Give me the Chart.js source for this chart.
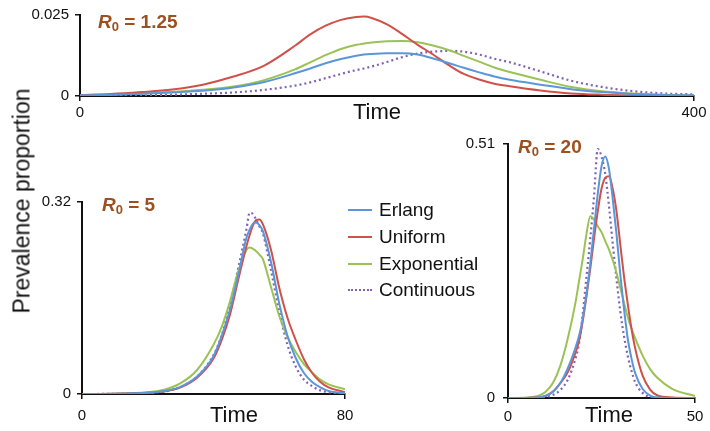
<!DOCTYPE html>
<html>
<head>
<meta charset="utf-8">
<script src="https://cdn.jsdelivr.net/npm/chart.js@4"></script>
<style>
  body { margin: 0; background: #fff; }
  #wrap { position: relative; width: 710px; height: 431px; overflow: hidden; font-family: 'Liberation Sans', Arial, sans-serif; }
  #wrap canvas { position: absolute; left: 0; top: 0; }
  .txt { position: absolute; white-space: nowrap; transform: translate(-50%, -50%); line-height: 1; color: #111; }
  .r0 { position: absolute; white-space: nowrap; line-height: 1; font-size: 19px; font-weight: bold; color: #9c4f1f; transform: translateY(-50%); }
  .r0 sub { font-size: 13px; font-style: normal; vertical-align: -3px; }
  .leg { position: absolute; left: 348px; font-size: 19px; line-height: 1; color: #111; }
  .leg .row { position: absolute; left: 0; white-space: nowrap; transform: translateY(-50%); }
  .leg .sw { position: absolute; left: 0; top: 50%; width: 24px; height: 0; }
  .leg .lbl { position: absolute; left: 31px; top: -9px; }
</style>
</head>
<body>
<div id="wrap">
  <canvas id="cTop" width="710" height="431"></canvas>
  <canvas id="cLeft" width="710" height="431"></canvas>
  <canvas id="cRight" width="710" height="431"></canvas>
</div>
<script>
var seriesNames = ['Erlang', 'Uniform', 'Exponential', 'Continuous'];
var seriesColors = ['#5a96d8', '#d0504a', '#9bc255', '#7f62b6'];

// R0 = 1.25
var timeTop = [0, 20, 40, 60, 80, 100, 120, 140, 150, 160, 170, 180, 185, 190, 200, 210, 220, 230, 240, 250, 260, 270, 280, 300, 320, 340, 360, 380, 400];
var erlangTop = [0.0002, 0.0004, 0.0007, 0.0011, 0.0016, 0.0026, 0.0043, 0.007, 0.0085, 0.0101, 0.0114, 0.0124, 0.0128, 0.013, 0.0132, 0.0132, 0.0128, 0.0116, 0.0102, 0.0087, 0.0073, 0.006, 0.005, 0.0035, 0.0021, 0.0012, 0.0006, 0.0003, 0.0002];
var uniformTop = [0.0003, 0.0006, 0.0012, 0.002, 0.0035, 0.006, 0.0094, 0.0155, 0.019, 0.0217, 0.0235, 0.0244, 0.0245, 0.0241, 0.0221, 0.0191, 0.0158, 0.0128, 0.0096, 0.0068, 0.0051, 0.0038, 0.003, 0.0017, 0.0008, 0.0004, 0.0002, 0.0001, 0.0001];
var exponentialTop = [0.0002, 0.0004, 0.0008, 0.0013, 0.0019, 0.0029, 0.0049, 0.0082, 0.0104, 0.0126, 0.0145, 0.0158, 0.0162, 0.0165, 0.0169, 0.017, 0.0166, 0.0156, 0.0142, 0.0124, 0.0106, 0.0088, 0.0074, 0.005, 0.0028, 0.0015, 0.0008, 0.0004, 0.0002];
var continuousTop = [0.0001, 0.0001, 0.0002, 0.0004, 0.0007, 0.0011, 0.0019, 0.0032, 0.0042, 0.0055, 0.0068, 0.008, 0.0085, 0.0091, 0.0105, 0.012, 0.0131, 0.0137, 0.0139, 0.0137, 0.0128, 0.0115, 0.0104, 0.0076, 0.0047, 0.0028, 0.0015, 0.0008, 0.0005];

// R0 = 5
var timeLeft = [0, 10, 20, 25, 30, 35, 40, 42.5, 45, 47.5, 50, 51, 52, 53, 54, 55, 57.5, 60, 62.5, 65, 67.5, 70, 72.5, 75, 80];
var erlangLeft = [0, 0.0003, 0.002, 0.005, 0.012, 0.029, 0.063, 0.097, 0.14, 0.197, 0.26, 0.274, 0.284, 0.286, 0.281, 0.272, 0.22, 0.151, 0.097, 0.06, 0.035, 0.02, 0.011, 0.005, 0.001];
var uniformLeft = [0, 0.0003, 0.002, 0.004, 0.011, 0.027, 0.059, 0.09, 0.132, 0.19, 0.246, 0.265, 0.281, 0.29, 0.291, 0.283, 0.24, 0.177, 0.127, 0.09, 0.058, 0.035, 0.02, 0.011, 0.003];
var exponentialLeft = [0, 0.0005, 0.003, 0.007, 0.018, 0.04, 0.082, 0.112, 0.154, 0.204, 0.24, 0.244, 0.242, 0.238, 0.232, 0.225, 0.178, 0.13, 0.095, 0.07, 0.05, 0.036, 0.024, 0.016, 0.008];
var continuousLeft = [0, 0.0002, 0.002, 0.004, 0.012, 0.029, 0.065, 0.098, 0.148, 0.209, 0.274, 0.302, 0.3, 0.29, 0.279, 0.268, 0.206, 0.137, 0.082, 0.046, 0.024, 0.013, 0.006, 0.003, 0.0005];

// R0 = 20
var timeRight = [0, 5, 8, 10, 12, 14, 16, 18, 19, 20, 21, 22, 23, 24, 25, 26, 27, 28, 29, 30, 31, 32, 33, 34, 36, 38, 40, 44, 50];
var erlangRight = [0, 0, 0.001, 0.004, 0.012, 0.03, 0.06, 0.1, 0.125, 0.16, 0.21, 0.27, 0.34, 0.41, 0.465, 0.485, 0.46, 0.4, 0.33, 0.25, 0.18, 0.12, 0.08, 0.05, 0.018, 0.005, 0.001, 0, 0];
var uniformRight = [0, 0, 0.001, 0.004, 0.013, 0.03, 0.052, 0.09, 0.115, 0.155, 0.205, 0.26, 0.32, 0.375, 0.42, 0.442, 0.445, 0.42, 0.375, 0.31, 0.245, 0.19, 0.14, 0.1, 0.045, 0.017, 0.005, 0.001, 0];
var exponentialRight = [0, 0.001, 0.004, 0.012, 0.03, 0.065, 0.12, 0.19, 0.235, 0.28, 0.33, 0.365, 0.358, 0.345, 0.333, 0.315, 0.298, 0.277, 0.252, 0.222, 0.192, 0.163, 0.14, 0.12, 0.085, 0.058, 0.04, 0.018, 0.004];
var continuousRight = [0, 0, 0, 0.002, 0.006, 0.016, 0.037, 0.078, 0.11, 0.17, 0.245, 0.32, 0.405, 0.5, 0.485, 0.45, 0.385, 0.31, 0.24, 0.175, 0.125, 0.085, 0.055, 0.032, 0.01, 0.002, 0, 0, 0];

var yTicksTop = ['0', '0.025'], xTicksTop = ['0', '400'];
var yTicksLeft = ['0', '0.32'], xTicksLeft = ['0', '80'];
var yTicksRight = ['0', '0.51'], xTicksRight = ['0', '50'];

var tickFont = { family: "'Liberation Sans', Arial, sans-serif", size: 15 };

function makePanel(id, times, series, xMax, yMax, xLabels, yLabels, box) {
  var datasets = series.map(function (vals, i) {
    return {
      label: seriesNames[i],
      data: times.map(function (t, j) { return { x: t, y: vals[j] }; }),
      borderColor: seriesColors[i],
      borderWidth: i === 3 ? 2.2 : 2,
      borderDash: i === 3 ? [2, 3] : [],
      pointRadius: 0,
      fill: false,
      cubicInterpolationMode: 'monotone'
    };
  });
  new Chart(document.getElementById(id).getContext('2d'), {
    type: 'line',
    data: { datasets: datasets },
    options: {
      responsive: false,
      animation: false,
      devicePixelRatio: 1,
      layout: { padding: { left: box.left - box.yw, right: 710 - box.right, top: box.top, bottom: 431 - box.bottom - 30 } },
      plugins: { legend: { display: false }, tooltip: { enabled: false } },
      scales: {
        x: {
          type: 'linear', min: 0, max: xMax,
          afterBuildTicks: function (s) { s.ticks = [{ value: 0 }, { value: xMax }]; },
          afterFit: function (s) { s.height = 30; },
          ticks: { font: tickFont, color: '#111', padding: box.xpad, maxRotation: 0,
                   callback: function (v) { return v === 0 ? xLabels[0] : xLabels[1]; } },
          grid: { drawOnChartArea: false, drawTicks: true, tickLength: 5, color: '#111', lineWidth: 1.5 },
          border: { display: true, color: '#111', width: 2 }
        },
        y: {
          type: 'linear', min: 0, max: yMax,
          afterBuildTicks: function (s) { s.ticks = [{ value: 0 }, { value: yMax }]; },
          afterFit: function (s) { s.width = box.yw; },
          ticks: { font: tickFont, color: '#111', padding: box.ypad,
                   callback: function (v) { return v === 0 ? yLabels[0] : yLabels[1]; } },
          grid: { drawOnChartArea: false, drawTicks: true, tickLength: 5, color: '#111', lineWidth: 1.5 },
          border: { display: true, color: '#111', width: 2 }
        }
      }
    }
  });
}

makePanel('cTop', timeTop, [erlangTop, uniformTop, exponentialTop, continuousTop], 400, 0.025,
  xTicksTop, yTicksTop, { left: 80, right: 694, top: 15, bottom: 96, yw: 80, xpad: 3, ypad: 6 });
makePanel('cLeft', timeLeft, [erlangLeft, uniformLeft, exponentialLeft, continuousLeft], 80, 0.32,
  xTicksLeft, yTicksLeft, { left: 82, right: 345, top: 202, bottom: 394, yw: 82, xpad: 8, ypad: 6 });
makePanel('cRight', timeRight, [erlangRight, uniformRight, exponentialRight, continuousRight], 50, 0.51,
  xTicksRight, yTicksRight, { left: 508, right: 695, top: 144, bottom: 398, yw: 60, xpad: 5, ypad: 8 });

// text labels
var wrap = document.getElementById('wrap');
function addText(html, cls, x, y, extra) {
  var d = document.createElement('div');
  d.className = cls;
  d.innerHTML = html;
  d.style.left = x + 'px';
  d.style.top = y + 'px';
  if (extra) d.setAttribute('style', d.getAttribute('style') + ';' + extra);
  wrap.appendChild(d);
  return d;
}
addText('Time', 'txt', 377, 112, 'font-size:22px');
addText('Time', 'txt', 234, 415, 'font-size:22px');
addText('Time', 'txt', 609, 415, 'font-size:22px');
addText('Prevalence proportion', 'txt', 22, 201, 'font-size:23px;transform:translate(-50%,-50%) rotate(-90deg)');
addText('<i>R</i><sub>0</sub> = 1.25', 'r0', 98, 22);
addText('<i>R</i><sub>0</sub> = 5', 'r0', 102, 205);
addText('<i>R</i><sub>0</sub> = 20', 'r0', 518, 147);

var legRows = [209, 236, 263, 289];
var leg = document.createElement('div');
leg.className = 'leg';
leg.style.top = '0px';
seriesNames.forEach(function (name, i) {
  var row = document.createElement('div');
  row.className = 'row';
  row.style.top = legRows[i] + 'px';
  var sw = document.createElement('div');
  sw.className = 'sw';
  sw.style.borderTop = (i === 3 ? '2px dotted ' : '2px solid ') + seriesColors[i];
  var lb = document.createElement('div');
  lb.className = 'lbl';
  lb.textContent = name;
  row.appendChild(sw);
  row.appendChild(lb);
  leg.appendChild(row);
});
wrap.appendChild(leg);
</script>
</body>
</html>
